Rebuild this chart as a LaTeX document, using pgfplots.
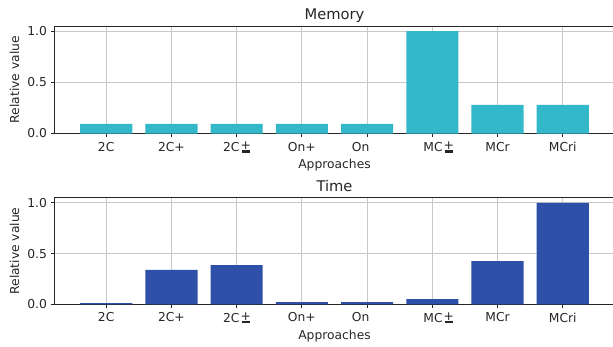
\documentclass[border=0pt]{standalone}
\usepackage{fontspec}
\setmainfont{DejaVu Sans}
\usepackage{pgfplots}
\pgfplotsset{compat=1.18}
\definecolor{memc}{RGB}{51,184,202}
\definecolor{timec}{RGB}{46,80,168}
\definecolor{gridc}{RGB}{200,200,200}
\definecolor{axc}{RGB}{38,38,38}
\newcommand\upm{\kern2pt\rlap{\kern-0.9pt\raisebox{2.2pt}{+}}\rule[-0.6pt]{8.7pt}{2.2pt}}
\pgfplotstableread{
x y
0 0.093
1 0.093
2 0.093
3 0.093
4 0.093
5 1.0
6 0.28
7 0.28
}\memdata
\pgfplotstableread{
x y
0 0.012
1 0.338
2 0.387
3 0.022
4 0.022
5 0.052
6 0.426
7 1.0
}\timedata
\pgfplotsset{
  myax/.style={
    scale only axis, width=561pt, anchor=south west,
    xmin=-0.8, xmax=7.8, ymin=0, ymax=1.05,
    xtick={0,...,7},
    xticklabels={2C,2C+,2C\upm,On+,{On\kern13pt},{\kern12pt MC\upm},MCr,MCri},
    ytick={0,0.5,1},
    /pgf/number format/assume math mode=true,
    yticklabel style={/pgf/number format/fixed,/pgf/number format/fixed zerofill,/pgf/number format/precision=1},
    xticklabel style={yshift=-1.5pt},
    tick label style={font=\fontsize{12.3}{14}\selectfont, text=axc},
    label style={font=\fontsize{12.3}{14}\selectfont, text=axc},
    every axis title/.style={at={(axis description cs:0.5,1)}, anchor=base, yshift=6.7pt,
      font=\fontsize{14.7}{17}\selectfont, text=axc},
    xtick pos=left, ytick pos=left,
    tick align=outside, major tick length=3.5pt,
    every tick/.style={axc, line width=0.8pt},
    axis line style={axc, line width=0.8pt},
    grid=major, major grid style={gridc, line width=0.8pt},
    xlabel=Approaches, ylabel=Relative value,
    xlabel style={at={(axis description cs:0.5,-0.298)}, anchor=center},
    ylabel style={at={(axis description cs:-0.0704,0.5)}, anchor=center},
  }
}
\begin{document}
\begin{tikzpicture}[x=1pt,y=1pt]
\path[use as bounding box] (0,0) rectangle (613,346);
\begin{axis}[myax, at={(54pt,212.5pt)}, height=107.5pt, title=Memory]
\addplot[ybar, bar width=0.8, fill=memc, draw=none] table[x=x,y=y] {\memdata};
\end{axis}
\begin{axis}[myax, at={(54pt,41.7pt)}, height=106.6pt, title=Time]
\addplot[ybar, bar width=0.8, fill=timec, draw=none] table[x=x,y=y] {\timedata};
\end{axis}
\end{tikzpicture}
\end{document}
